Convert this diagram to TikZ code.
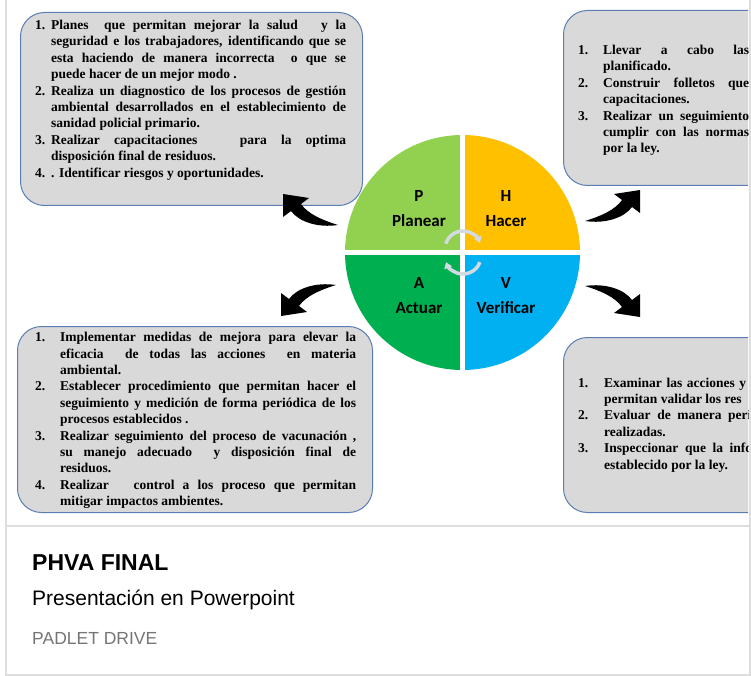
\documentclass[tikz,border=0pt]{standalone}
\usepackage{fontspec}
\setmainfont{Liberation Serif}
\newfontfamily\quadfont{Carlito}
\newfontfamily\cardfont{Liberation Sans}
\usetikzlibrary{arrows.meta}

\definecolor{planGreen}{HTML}{92D050}
\definecolor{doYellow}{HTML}{FFC000}
\definecolor{actGreen}{HTML}{00B050}
\definecolor{checkBlue}{HTML}{00B0F0}
\definecolor{boxGray}{HTML}{D9D9D9}
\definecolor{boxLine}{HTML}{5B7DB3}
\definecolor{frameGray}{HTML}{DEDEDE}
\definecolor{cycleGray}{HTML}{D3DAE2}
\definecolor{srcGray}{HTML}{757575}

% numbered entry with hanging indent
\newcommand\phvaitem[3]{\par\noindent\hangindent=#1\hangafter=1\makebox[#1][l]{#2}#3\par}

\tikzset{
  pics/bentarrow/.style = {code={
    \fill (0,0) .. controls (-16,-5) and (-30,-11) .. (-37,-21) -- (-29,-27)
      -- (-55,-31) -- (-55,-8) -- (-47,-14) .. controls (-39,-3) and (-20,3) .. (0,0) -- cycle;
  }}
}

\begin{document}
\begin{tikzpicture}[x=1pt,y=-1pt,
    roundbox/.style = {draw=boxLine, line width=1pt, fill=boxGray,
        rounded corners=24pt, anchor=north west, inner sep=0pt},
    itemtext/.style = {font=\bfseries\fontsize{13.5}{16.4}\selectfont,
        align=justify, anchor=north west, inner sep=0pt,
        execute at begin node={\tolerance=10000\hbadness=10000\hyphenpenalty=10000}},
    quadlabel/.style = {font=\quadfont\bfseries\fontsize{17}{25}\selectfont,
        align=center, inner sep=0pt},
    cyclearc/.style = {draw=cycleGray, line width=3.5pt,
        -{Triangle[width=8pt,length=6pt]}},
    cardline/.style = {draw=frameGray, line width=2pt},
    cardtext/.style = {anchor=west, inner sep=0pt}]
\useasboundingbox (0,0) rectangle (751,676);

% card frame
\draw[cardline] (5.5,0) -- (5.5,674.5) -- (749.5,674.5) -- (749.5,0);
\draw[cardline] (5.5,525.5) -- (749.5,525.5);

\begin{scope}
\clip (0,0) rectangle (748,520);

% text boxes
\node[roundbox, minimum width=342pt, minimum height=193pt] (planbox) at (20,12) {};
\node[roundbox, minimum width=260pt, minimum height=175pt] (dobox) at (563,10) {};
\node[roundbox, minimum width=355pt, minimum height=186pt] (actbox) at (17,326) {};
\node[roundbox, minimum width=260pt, minimum height=175pt] (checkbox) at (563,337) {};

\node[itemtext, text width=311pt] (plantext) at (35,13) {%
  \phvaitem{16pt}{1.}{Planes \ que permitan mejorar la salud \ \ y la\linebreak
    seguridad e los trabajadores, identificando que se\linebreak
    esta haciendo de manera incorrecta \ o que se\linebreak
    puede hacer de un mejor modo .}
  \phvaitem{16pt}{2.}{Realiza un diagnostico de los procesos de gestión\linebreak
    ambiental desarrollados en el establecimiento de\linebreak
    sanidad policial primario.}
  \phvaitem{16pt}{3.}{Realizar capacitaciones \ \ para la optima\linebreak
    disposición final de residuos.}
  \phvaitem{16pt}{4.}{. Identificar riesgos y oportunidades.}};

\node[itemtext, text width=171pt] (dotext) at (578,38) {%
  \phvaitem{25pt}{1.}{Llevar a cabo las\linebreak planificado.}
  \phvaitem{25pt}{2.}{Construir folletos que\linebreak capacitaciones.}
  \phvaitem{25pt}{3.}{Realizar un seguimiento\linebreak
    cumplir con las normas\linebreak por la ley.}};

\node[itemtext, text width=321pt] (acttext) at (35,325) {%
  \phvaitem{25pt}{1.}{Implementar medidas de mejora para elevar la\linebreak
    eficacia \ de todas las acciones \ en materia\linebreak ambiental.}
  \phvaitem{25pt}{2.}{Establecer procedimiento que permitan hacer el\linebreak
    seguimiento y medición de forma periódica de los\linebreak
    procesos establecidos .}
  \phvaitem{25pt}{3.}{Realizar seguimiento del proceso de vacunación ,\linebreak
    su manejo adecuado \ y disposición final de\linebreak residuos.}
  \phvaitem{25pt}{4.}{Realizar \ \ control a los proceso que permitan\linebreak
    mitigar impactos ambientes.}};

\node[itemtext, text width=180pt] (checktext) at (578,370.5) {%
  \phvaitem{26pt}{1.}{Examinar las acciones y p\linebreak permitan validar los res}
  \phvaitem{26pt}{2.}{Evaluar de manera perio\linebreak realizadas.}
  \phvaitem{26pt}{3.}{Inspeccionar que la infor\linebreak establecido por la ley.}};

% PHVA circle
\fill[planGreen] (462.5,252.5) -- ++(180:117.5) arc[start angle=180, end angle=270, radius=117.5] -- cycle;
\fill[doYellow] (462.5,252.5) -- ++(270:117.5) arc[start angle=270, end angle=360, radius=117.5] -- cycle;
\fill[checkBlue] (462.5,252.5) -- ++(0:117.5) arc[start angle=0, end angle=90, radius=117.5] -- cycle;
\fill[actGreen] (462.5,252.5) -- ++(90:117.5) arc[start angle=90, end angle=180, radius=117.5] -- cycle;
\draw[white, line width=5pt] (343,252.5) -- (582,252.5);
\draw[white, line width=5pt] (462.5,133) -- (462.5,372);

% turning arrows in the middle
\draw[cyclearc] (463,249) ++(197:18) arc[start angle=197, end angle=340, radius=18];
\draw[cyclearc] (463,256) ++(20:18) arc[start angle=20, end angle=160, radius=18];

\node[quadlabel] (plan) at (419,209) {P\\Planear};
\node[quadlabel] (do) at (506,209) {H\\Hacer};
\node[quadlabel] (act) at (419,296) {A\\Actuar};
\node[quadlabel] (check) at (506,296) {V\\Verificar};

% black arrows towards the boxes
\coordinate (planTail) at (338,225);
\coordinate (doTail) at (585,221);
\coordinate (checkTail) at (585,286);
\coordinate (actTail) at (336,285);
\pic at (planTail) {bentarrow};
\pic[xscale=-1] at (doTail) {bentarrow};
\pic[xscale=-1, yscale=-1] at (checkTail) {bentarrow};
\pic[yscale=-1] at (actTail) {bentarrow};
\end{scope}

% card caption
\node[cardtext, font=\cardfont\bfseries\fontsize{23}{27}\selectfont] (title) at (32,563) {PHVA FINAL};
\node[cardtext, font=\cardfont\fontsize{21}{25}\selectfont] (subtitle) at (32,600) {Presentación en Powerpoint};
\node[cardtext, font=\cardfont\fontsize{17.5}{21}\selectfont, text=srcGray] (source) at (32,638) {PADLET DRIVE};
\end{tikzpicture}
\end{document}
